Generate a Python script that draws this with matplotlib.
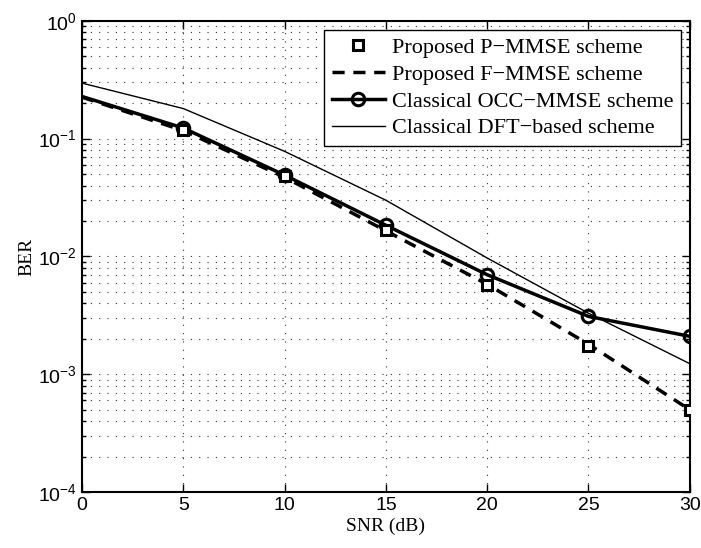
import numpy as np
import matplotlib
matplotlib.use('Agg')
import matplotlib.pyplot as plt
from matplotlib.ticker import LogLocator, NullFormatter, MultipleLocator

# SNR points (dB) and BER values
snr = [0, 5, 10, 15, 20, 25, 30]
snr_mk = [5, 10, 15, 20, 25, 30]
ber_p_mmse = [0.118, 0.048, 0.0167, 0.0057, 0.00175, 0.0005]
ber_f_mmse = [0.225, 0.117, 0.047, 0.0165, 0.0058, 0.0018, 0.0005]
ber_occ = [0.228, 0.123, 0.049, 0.0184, 0.007, 0.0031, 0.0021]
ber_dft = [0.296, 0.18, 0.078, 0.030, 0.0097, 0.0033, 0.00123]

plt.rcParams['font.family'] = ['Liberation Sans', 'DejaVu Sans']
plt.rcParams['mathtext.fontset'] = 'custom'
plt.rcParams['mathtext.rm'] = 'Liberation Sans'
plt.rcParams['mathtext.it'] = 'Liberation Sans'

fig = plt.figure(figsize=(7.01, 5.48), dpi=100)
ax = fig.add_axes([0.117, 0.102, 0.867, 0.860])

ax.semilogy(snr_mk, ber_p_mmse, linestyle='None', marker='s', markersize=7,
            markerfacecolor='white', markeredgecolor='black', markeredgewidth=2.2,
            label='Proposed P\u2212MMSE scheme', zorder=5)
ax.semilogy(snr, ber_f_mmse, color='black', linestyle=(0, (3.5, 2.5)), linewidth=2.5,
            label='Proposed F\u2212MMSE scheme')
ax.semilogy(snr, ber_occ, color='black', linewidth=2.5, marker='o', markersize=9,
            markerfacecolor='none', markeredgewidth=2.2, markevery=list(range(1, 7)),
            label='Classical OCC\u2212MMSE scheme')
ax.semilogy(snr, ber_dft, color='black', linewidth=1.0,
            label='Classical DFT\u2212based scheme')

ax.set_xlim(0, 30)
ax.set_ylim(1e-4, 1)
ax.xaxis.set_major_locator(MultipleLocator(5))
ax.yaxis.set_major_locator(LogLocator(base=10, numticks=10))
ax.yaxis.set_minor_locator(LogLocator(base=10, subs=np.arange(2, 10), numticks=10))
ax.yaxis.set_minor_formatter(NullFormatter())

ax.grid(True, which='major', linestyle=(0, (1, 6.5)), color='#333333', linewidth=0.8)
ax.grid(True, which='minor', axis='y', linestyle=(0, (1, 6.5)), color='#333333', linewidth=0.8)

ax.tick_params(which='both', direction='in', top=True, right=True, labelsize=14)
ax.tick_params(which='major', length=6, width=1)
ax.tick_params(which='minor', length=3, width=1)
for s in ax.spines.values():
    s.set_linewidth(1.5)

ax.set_xlabel('SNR (dB)', family='Liberation Serif', fontsize=14, labelpad=3)
ax.set_ylabel('BER', family='Liberation Serif', fontsize=14, labelpad=2)

leg = ax.legend(loc='upper right', prop={'family': 'Liberation Serif', 'size': 16},
                fancybox=False, framealpha=1, edgecolor='black', borderpad=0.35,
                labelspacing=0.28, handlelength=2.4, handletextpad=0.3,
                borderaxespad=0.4)
leg.get_frame().set_linewidth(1.0)

fig.savefig('out.png', dpi=100)
